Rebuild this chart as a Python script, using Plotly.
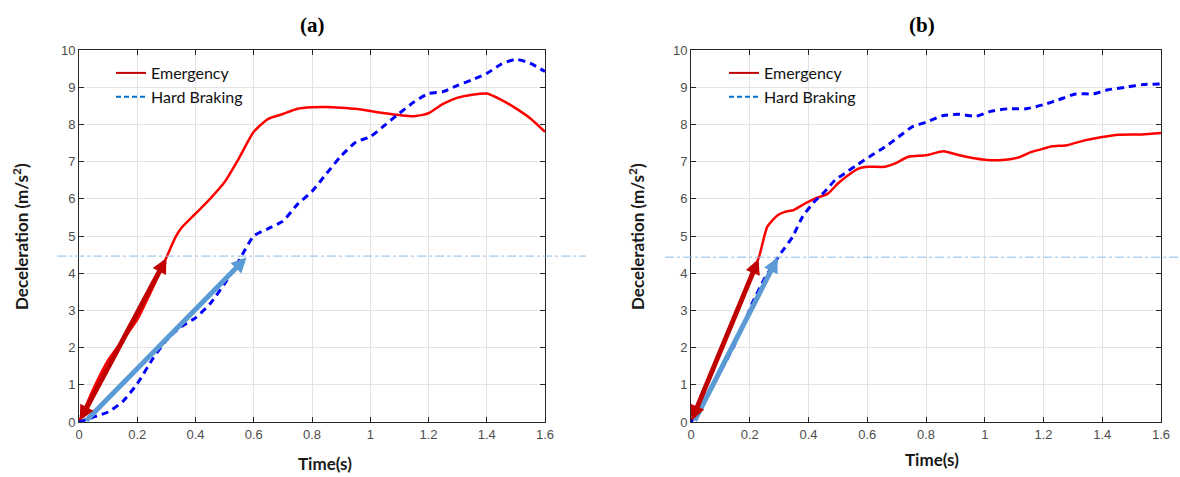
import plotly.graph_objects as go

# ---------------- data ----------------
t_a_emerg = [0, 0.05, 0.1, 0.15, 0.2, 0.25, 0.3, 0.33, 0.35, 0.4, 0.45, 0.5, 0.55, 0.6, 0.65, 0.7,
             0.75, 0.8, 0.85, 0.9, 0.95, 1.0, 1.05, 1.1, 1.15, 1.2, 1.25, 1.3, 1.35, 1.4, 1.45, 1.5, 1.55, 1.6]
v_a_emerg = [0, 0.9, 1.66, 2.2, 2.75, 3.55, 4.42, 4.95, 5.2, 5.6, 6.0, 6.45, 7.1, 7.8, 8.15, 8.28,
             8.42, 8.46, 8.47, 8.45, 8.42, 8.36, 8.3, 8.25, 8.22, 8.3, 8.55, 8.72, 8.8, 8.83, 8.66, 8.43, 8.16, 7.8]

t_a_hard = [0, 0.05, 0.1, 0.15, 0.2, 0.25, 0.3, 0.35, 0.4, 0.45, 0.5, 0.55, 0.6, 0.65, 0.7, 0.75, 0.8,
            0.85, 0.9, 0.95, 1.0, 1.05, 1.1, 1.15, 1.2, 1.25, 1.3, 1.35, 1.4, 1.45, 1.5, 1.55, 1.6]
v_a_hard = [0, 0.13, 0.27, 0.55, 1.03, 1.66, 2.2, 2.56, 2.8, 3.18, 3.72, 4.35, 5.0, 5.2, 5.4, 5.85, 6.2,
            6.68, 7.15, 7.52, 7.67, 7.98, 8.3, 8.6, 8.83, 8.88, 9.05, 9.2, 9.37, 9.62, 9.75, 9.64, 9.42]

t_b_emerg = [0, 0.05, 0.1, 0.15, 0.2, 0.232, 0.26, 0.295, 0.32, 0.35, 0.39, 0.42, 0.466, 0.5, 0.535, 0.57,
             0.6, 0.66, 0.695, 0.74, 0.8, 0.86, 0.914, 1.0, 1.06, 1.11, 1.16, 1.2, 1.23, 1.28, 1.34, 1.4,
             1.456, 1.535, 1.6]
v_b_emerg = [0, 0.95, 1.9, 2.85, 3.8, 4.45, 5.25, 5.56, 5.65, 5.7, 5.88, 6.0, 6.14, 6.41, 6.63, 6.81,
             6.86, 6.86, 6.95, 7.13, 7.17, 7.28, 7.17, 7.05, 7.04, 7.1, 7.26, 7.35, 7.41, 7.44, 7.57, 7.66,
             7.72, 7.73, 7.77]

t_b_hard = [0, 0.05, 0.1, 0.146, 0.186, 0.209, 0.25, 0.306, 0.346, 0.38, 0.415, 0.455, 0.49, 0.523, 0.563,
            0.615, 0.66, 0.706, 0.752, 0.8, 0.86, 0.914, 0.97, 1.02, 1.08, 1.14, 1.2, 1.25, 1.31, 1.37,
            1.42, 1.48, 1.54, 1.6]
v_b_hard = [0, 0.6, 1.35, 2.04, 2.75, 3.2, 3.85, 4.54, 4.98, 5.52, 5.88, 6.19, 6.5, 6.68, 6.9,
            7.17, 7.39, 7.66, 7.93, 8.06, 8.24, 8.27, 8.22, 8.35, 8.42, 8.42, 8.53, 8.66, 8.82, 8.82,
            8.93, 9.0, 9.07, 9.09]

threshold_a = 4.46
threshold_b = 4.43

# arrows: (tail_t, tail_v, head_t, head_v)
arrow_a_emerg = (0.0, 0.0, 0.3, 4.4)
arrow_a_hard = (0.02, 0.0, 0.575, 4.42)
arrow_b_emerg = (0.0, 0.0, 0.23, 4.38)
arrow_b_hard = (0.01, 0.0, 0.295, 4.42)

x_ticks = [0, 0.2, 0.4, 0.6, 0.8, 1, 1.2, 1.4, 1.6]
x_ticktext = ["0", "0.2", "0.4", "0.6", "0.8", "1", "1.2", "1.4", "1.6"]
y_ticks = list(range(0, 11))

panel_titles = ["(a)", "(b)"]
series_names = ["Emergency", "Hard Braking"]

# ---------------- layout geometry ----------------
W, H = 1180, 477
def px_x(p): return p / W
def px_y(p): return 1 - p / H

dom_x_a = [px_x(79), px_x(545)]
dom_x_b = [px_x(691), px_x(1161)]
dom_y = [px_y(422), px_y(50)]

RED = "#ff0000"
BLUE = "#0000ff"
LEG_RED = "#c00000"
LEG_BLUE = "#0070c0"
DARKRED = "#c00000"
LIGHTBLUE = "#5b9bd5"
THRESH = "#8cbbe6"

fig = go.Figure()

def add_series(t, v, name, color, dash, xa, ya, legend, width, legcolor, legdash):
    fig.add_trace(go.Scatter(
        x=t, y=v, mode="lines", name=name, xaxis=xa, yaxis=ya, showlegend=False,
        line=dict(color=color, width=width, dash=dash, shape="spline", smoothing=0.6),
    ))
    # legend entry drawn in the reference's legend colours
    fig.add_trace(go.Scatter(
        x=[None], y=[None], mode="lines", name=name, xaxis=xa, yaxis=ya, legend=legend,
        line=dict(color=legcolor, width=2, dash=legdash), hoverinfo="skip",
    ))

add_series(t_a_emerg, v_a_emerg, series_names[0], RED, "solid", "x", "y", "legend", 2.5, LEG_RED, "solid")
add_series(t_a_hard, v_a_hard, series_names[1], BLUE, "7px,5px", "x", "y", "legend", 3, LEG_BLUE, "5px,3px")
add_series(t_b_emerg, v_b_emerg, series_names[0], RED, "solid", "x2", "y2", "legend2", 2.5, LEG_RED, "solid")
add_series(t_b_hard, v_b_hard, series_names[1], BLUE, "7px,5px", "x2", "y2", "legend2", 3, LEG_BLUE, "5px,3px")

axis_common = dict(
    showline=True, linecolor="#262626", linewidth=1, mirror="allticks",
    ticks="inside", ticklen=5, tickcolor="#262626", automargin=False,
    showgrid=True, gridcolor="#e3e3e3", gridwidth=1, zeroline=False,
    tickfont=dict(family="Liberation Sans, Arial", size=13, color="#4d4d4d"),
)

leg_font = dict(family="Lato", size=16, color="#111111")
fig.update_layout(
    width=W, height=H, margin=dict(l=0, r=0, t=0, b=0, autoexpand=False),
    paper_bgcolor="white", plot_bgcolor="white",
    xaxis=dict(domain=dom_x_a, range=[0, 1.6], tickvals=x_ticks, ticktext=x_ticktext, anchor="y", **axis_common),
    yaxis=dict(domain=dom_y, range=[0, 10], tickvals=y_ticks, anchor="x", **axis_common),
    xaxis2=dict(domain=dom_x_b, range=[0, 1.6], tickvals=x_ticks, ticktext=x_ticktext, anchor="y2", **axis_common),
    yaxis2=dict(domain=dom_y, range=[0, 10], tickvals=y_ticks, anchor="x2", **axis_common),
    legend=dict(x=px_x(111), y=px_y(56), xanchor="left", yanchor="top", bgcolor="rgba(0,0,0,0)",
                font=leg_font, tracegroupgap=0),
    legend2=dict(x=px_x(724), y=px_y(56), xanchor="left", yanchor="top", bgcolor="rgba(0,0,0,0)",
                 font=leg_font, tracegroupgap=0),
    showlegend=True,
)

# threshold lines (extend beyond the plot frame)
fig.add_shape(type="line", xref="x domain", yref="y", x0=-0.047, x1=1.088, y0=threshold_a, y1=threshold_a,
              line=dict(color=THRESH, width=1, dash="dashdot"), layer="above")
fig.add_shape(type="line", xref="x2 domain", yref="y2", x0=-0.055, x1=1.04, y0=threshold_b, y1=threshold_b,
              line=dict(color=THRESH, width=1, dash="dashdot"), layer="above")

def add_arrow(arr, color, xa, ya, side="end"):
    t0, v0, t1, v1 = arr
    fig.add_annotation(x=t1, y=v1, ax=t0, ay=v0, xref=xa, yref=ya, axref=xa, ayref=ya,
                       showarrow=True, arrowhead=2, arrowsize=0.6, arrowwidth=5, arrowcolor=color,
                       arrowside=side, standoff=0, startstandoff=0, text="")

add_arrow(arrow_a_hard, LIGHTBLUE, "x", "y")
add_arrow(arrow_a_emerg, DARKRED, "x", "y", "end+start")
add_arrow(arrow_b_hard, LIGHTBLUE, "x2", "y2")
add_arrow(arrow_b_emerg, DARKRED, "x2", "y2", "end+start")

def paper_text(text, xp, yp, font, angle=0):
    fig.add_annotation(text=text, x=px_x(xp), y=px_y(yp), xref="paper", yref="paper",
                       xanchor="center", yanchor="middle", textangle=angle,
                       showarrow=False, font=font)

# panel titles
title_font = dict(family="Liberation Serif, Times New Roman", size=21, color="black")
paper_text("<b>%s</b>" % panel_titles[0], 312, 25, title_font)
paper_text("<b>%s</b>" % panel_titles[1], 922, 25, title_font)

# axis titles
lab_font = dict(family="Lato", size=17, color="#1a1a1a")
ylab = "<b>Deceleration (m/s<sup>2</sup>)</b>"
paper_text(ylab, 20, 237, lab_font, -90)
paper_text(ylab, 636, 237, lab_font, -90)
paper_text("<b>Time(s)</b>", 325, 463, lab_font)
paper_text("<b>Time(s)</b>", 932, 459, lab_font)

fig.write_html("out.html")
